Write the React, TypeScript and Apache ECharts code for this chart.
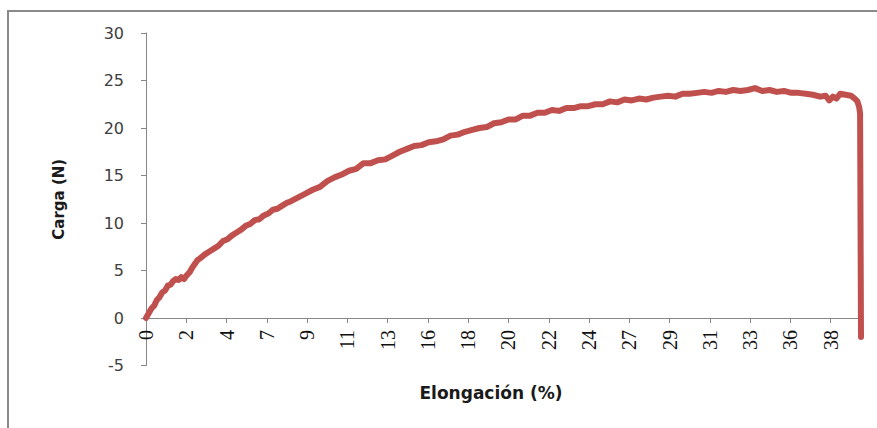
import React, { useEffect, useRef } from "react";
import * as echarts from "echarts";

// Elongación (%) values
const elongation: number[] = [
  0, 0.15, 0.3, 0.45, 0.6, 0.75, 0.9, 1.05, 1.2, 1.35, 1.5, 1.65, 1.8, 1.95, 2.1, 2.25, 2.4, 2.55, 2.7, 2.85, 3.0,
  3.25, 3.5, 3.75, 4.0, 4.25, 4.5, 4.75, 5.0, 5.25, 5.5, 5.75, 6.0, 6.25, 6.5, 6.75, 7.0, 7.25, 7.5, 7.75, 8.0,
  8.4, 8.8, 9.2, 9.6, 10.0, 10.4, 10.8, 11.2, 11.6, 12.0, 12.4, 12.8, 13.2, 13.6, 14.0, 14.4, 14.8, 15.2, 15.6, 16.0,
  16.4, 16.8, 17.2, 17.6, 18.0, 18.4, 18.8, 19.2, 19.6, 20.0, 20.4, 20.8, 21.2, 21.6, 22.0, 22.4, 22.8, 23.2, 23.6, 24.0,
  24.4, 24.8, 25.2, 25.6, 26.0, 26.4, 26.8, 27.2, 27.6, 28.0, 28.4, 28.8, 29.2, 29.6, 30.0, 30.4, 30.8, 31.2, 31.6, 32.0,
  32.4, 32.8, 33.2, 33.6, 34.0, 34.4, 34.8, 35.2, 35.6, 36.0, 36.4, 36.8, 37.2, 37.5, 37.7, 37.9, 38.1, 38.3, 38.6, 38.9,
  39.1, 39.25, 39.35, 39.4, 39.45,
];

// Carga (N) values
const load: number[] = [
  0, 0.5, 1.0, 1.3, 1.9, 2.2, 2.7, 2.9, 3.4, 3.5, 3.9, 4.1, 4.0, 4.3, 4.1, 4.5, 4.8, 5.3, 5.7, 6.1, 6.3,
  6.7, 7.0, 7.3, 7.6, 8.1, 8.3, 8.7, 9.0, 9.3, 9.7, 9.9, 10.3, 10.4, 10.8, 11.0, 11.4, 11.5, 11.8, 12.1, 12.3,
  12.7, 13.1, 13.5, 13.8, 14.4, 14.8, 15.1, 15.5, 15.7, 16.3, 16.3, 16.6, 16.7, 17.1, 17.5, 17.8, 18.1, 18.2, 18.5, 18.6,
  18.8, 19.2, 19.3, 19.6, 19.8, 20.0, 20.1, 20.5, 20.6, 20.9, 20.9, 21.3, 21.3, 21.6, 21.6, 21.9, 21.8, 22.1, 22.1, 22.3,
  22.3, 22.5, 22.5, 22.8, 22.7, 23.0, 22.9, 23.1, 23.0, 23.2, 23.3, 23.4, 23.3, 23.6, 23.6, 23.7, 23.8, 23.7, 23.9, 23.8,
  24.0, 23.9, 24.0, 24.2, 23.9, 24.0, 23.8, 23.9, 23.7, 23.7, 23.6, 23.5, 23.3, 23.4, 22.9, 23.3, 23.1, 23.6, 23.5, 23.4,
  23.1, 22.8, 22.2, 21.5, -2.0,
];

const yTicks = { min: -5, max: 30, step: 5 };
const xLabelStep = 20 / 9;
const xMax = 39.45;
const xTitle = "Elongación (%)";
const yTitle = "Carga (N)";

export default function App() {
  const ref = useRef<HTMLDivElement>(null);
  useEffect(() => {
    document.body.style.margin = "0";
    if (!ref.current) return;
    const chart = echarts.init(ref.current, null, { renderer: "svg" });
    const data = elongation.map((x, i) => [x, load[i]]);
    chart.setOption({
      animation: false,
      backgroundColor: "#ffffff",
      grid: { left: 146, right: 16, top: 33, bottom: 62.5, containLabel: false, outerBoundsMode: "none" },
      graphic: [
        {
          type: "rect",
          shape: { x: 8, y: 11, width: 920, height: 500 },
          style: { fill: "none", stroke: "#8a8a8a", lineWidth: 2 },
          silent: true,
        },
        {
          type: "text",
          x: 491,
          y: 393,
          style: {
            text: xTitle,
            fontFamily: "DejaVu Sans",
            fontWeight: "bold",
            fontSize: 17,
            fill: "#1a1a1a",
            align: "center",
            verticalAlign: "middle",
          },
          silent: true,
        },
      ],
      xAxis: {
        type: "value",
        min: 0,
        max: xMax,
        interval: xLabelStep,
        axisLine: { onZero: true, lineStyle: { color: "#868686", width: 1 } },
        axisTick: { show: true, inside: false, length: 5, lineStyle: { color: "#868686" } },
        splitLine: { show: false },
        axisLabel: {
          rotate: 90,
          margin: -35.5,
          showMaxLabel: false,
          fontFamily: "Liberation Sans Narrow, Liberation Serif, serif",
          fontSize: 20,
          color: "#111111",
          formatter: (v: number) => (v > xMax - 0.5 ? "" : String(Math.round(v))),
        },
      },
      yAxis: {
        type: "value",
        min: yTicks.min,
        max: yTicks.max,
        interval: yTicks.step,
        name: yTitle,
        nameLocation: "middle",
        nameGap: 80,
        nameRotate: 90,
        nameMoveOverlap: false,
        nameTextStyle: {
          fontFamily: "DejaVu Sans",
          fontWeight: "bold",
          fontSize: 15,
          color: "#1a1a1a",
        },
        axisLine: { show: true, lineStyle: { color: "#868686", width: 1 } },
        axisTick: { show: true, inside: false, length: 5, lineStyle: { color: "#868686" } },
        splitLine: { show: false },
        axisLabel: {
          margin: 22,
          fontFamily: "DejaVu Sans",
          fontSize: 16,
          color: "#404040",
        },
      },
      series: [
        {
          type: "line",
          data,
          showSymbol: false,
          symbol: "none",
          smooth: false,
          lineStyle: { color: "#C0504D", width: 6, join: "round", cap: "round" },
          itemStyle: { color: "#C0504D" },
        },
      ],
    });
    return () => chart.dispose();
  }, []);
  return <div ref={ref} style={{ width: 877, height: 428 }} />;
}
